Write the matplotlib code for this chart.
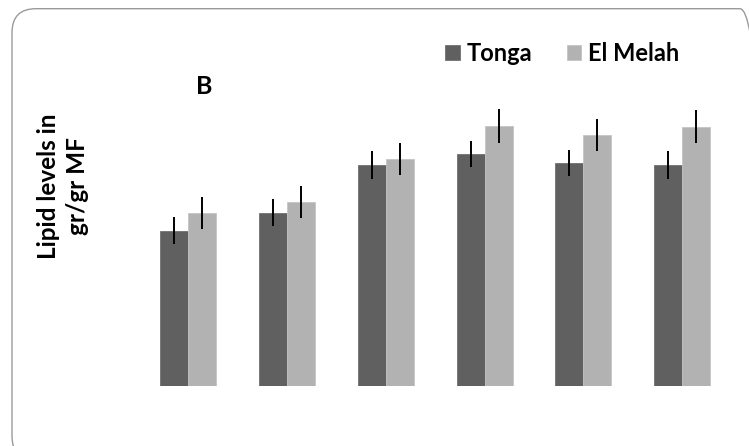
import matplotlib
matplotlib.use("Agg")
import matplotlib.pyplot as plt
import matplotlib.patches as mpatches
from matplotlib.transforms import IdentityTransform
import numpy as np

# Data (arbitrary units)
groups = ["1", "2", "3", "4", "5", "6"]
series_names = ["Tonga", "El Melah"]
tonga = [1.55, 1.73, 2.21, 2.32, 2.23, 2.21]
tonga_err = [0.135, 0.135, 0.14, 0.13, 0.133, 0.14]
el_melah = [1.73, 1.84, 2.27, 2.60, 2.51, 2.59]
el_melah_err = [0.156, 0.158, 0.16, 0.167, 0.157, 0.165]

W, H = 749, 446
fig = plt.figure(figsize=(W / 100, H / 100), dpi=100)
fig.patch.set_facecolor("white")

ax = fig.add_axes([140 / W, (H - 386) / H, (730 - 140) / W, 300 / H])
x = np.arange(len(groups))
bw = 0.283
dark = "#606060"
light = "#b2b2b2"
b1 = ax.bar(x - bw / 2, tonga, bw, color=dark, edgecolor="#707070", linewidth=0.6)
b2 = ax.bar(x + bw / 2, el_melah, bw, color=light, edgecolor="#c4c4c4", linewidth=0.6)
ax.errorbar(x - bw / 2, tonga, yerr=tonga_err, fmt="none", ecolor="black",
            elinewidth=1.4, capsize=0)
ax.errorbar(x + bw / 2, el_melah, yerr=el_melah_err, fmt="none", ecolor="black",
            elinewidth=1.4, capsize=0)
ax.set_xlim(-0.4855, 5.4825)
ax.set_ylim(0, 3.0)
ax.axis("off")

# Legend
fig.legend([b1, b2], series_names, loc="upper left",
           bbox_to_anchor=(445 / W, 1 - 42 / H), ncol=2, frameon=False,
           prop={"family": "Lato", "weight": "bold", "size": 17},
           handlelength=0.62, handleheight=0.62, handletextpad=0.3,
           columnspacing=1.45, borderaxespad=0, borderpad=0)

# Panel letter
fig.text(196 / W, 1 - 93.5 / H, "B", family="Lato", weight="bold",
         fontsize=18, ha="left", va="baseline")

# Y label
fig.text(63 / W, 1 - 186 / H, "Lipid levels in\ngr/gr MF", rotation=90,
         family="Lato", weight="bold", fontsize=17.5, ha="center",
         va="center", multialignment="center", linespacing=1.28)

# Rounded frame
frame = mpatches.FancyBboxPatch((12, -14), 752, H - 8.7 + 14,
                                boxstyle="round,pad=0,rounding_size=24",
                                transform=IdentityTransform(),
                                facecolor="none", edgecolor="#9a9a9a",
                                linewidth=1.0)
fig.add_artist(frame)

fig.savefig("out.png", dpi=100, facecolor="white")
